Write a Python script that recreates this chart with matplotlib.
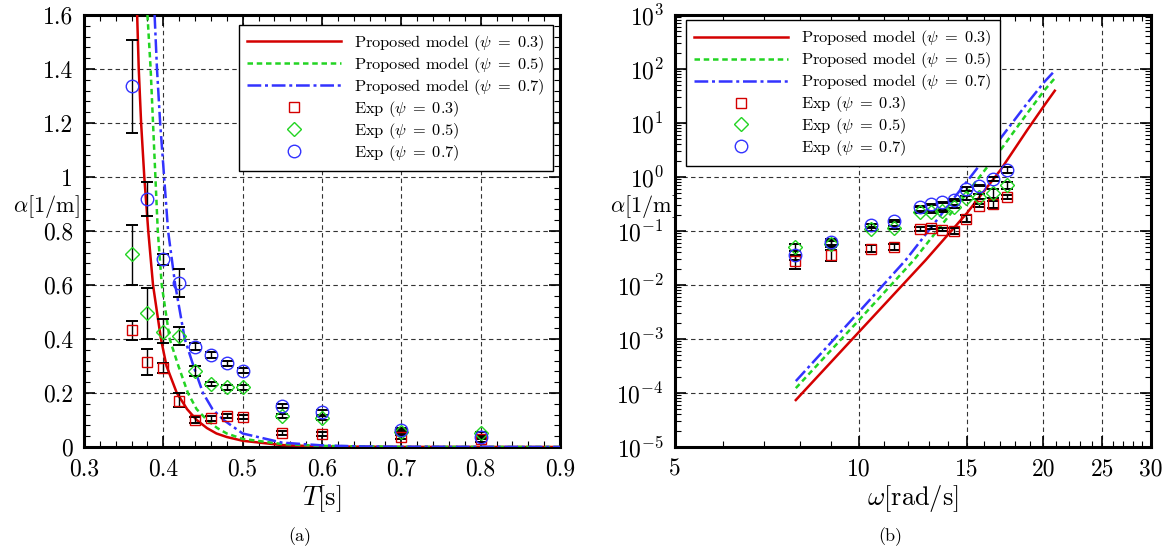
import numpy as np
import matplotlib
matplotlib.use("Agg")
from matplotlib import pyplot as plt
from matplotlib.ticker import MultipleLocator, FixedLocator, FixedFormatter, LogLocator, NullFormatter

plt.rcParams['font.family'] = ['cmr10', 'DejaVu Serif']
plt.rcParams['mathtext.fontset'] = 'cm'
plt.rcParams['axes.formatter.use_mathtext'] = True

# experimental data (same points in both panels)
period = [0.36, 0.38, 0.40, 0.42, 0.44, 0.46, 0.48, 0.50, 0.55, 0.60, 0.70, 0.80]
omega = [17.45, 16.53, 15.71, 14.96, 14.28, 13.66, 13.09, 12.57, 11.42, 10.47, 8.98, 7.85]

exp_03 = [0.433, 0.316, 0.294, 0.170, 0.100, 0.106, 0.115, 0.110, 0.051, 0.047, 0.036, 0.028]
exp_03_lo = [0.396, 0.267, 0.273, 0.149, 0.088, 0.098, 0.107, 0.102, 0.044, 0.040, 0.028, 0.020]
exp_03_hi = [0.468, 0.363, 0.312, 0.199, 0.112, 0.114, 0.123, 0.118, 0.058, 0.054, 0.044, 0.036]

exp_05 = [0.714, 0.495, 0.425, 0.411, 0.281, 0.233, 0.221, 0.221, 0.115, 0.108, 0.057, 0.050]
exp_05_lo = [0.600, 0.400, 0.384, 0.377, 0.263, 0.225, 0.212, 0.211, 0.108, 0.100, 0.050, 0.043]
exp_05_hi = [0.821, 0.590, 0.474, 0.446, 0.299, 0.241, 0.230, 0.231, 0.122, 0.116, 0.064, 0.057]

exp_07 = [1.336, 0.917, 0.695, 0.609, 0.372, 0.341, 0.310, 0.283, 0.152, 0.128, 0.063, 0.036]
exp_07_lo = [1.163, 0.855, 0.673, 0.557, 0.359, 0.331, 0.300, 0.273, 0.144, 0.119, 0.056, 0.029]
exp_07_hi = [1.508, 0.980, 0.714, 0.660, 0.385, 0.351, 0.320, 0.293, 0.160, 0.137, 0.070, 0.043]

# model curves, panel (a)
model_T_03 = [0.367, 0.369, 0.372, 0.376, 0.381, 0.387, 0.397, 0.404, 0.417, 0.430, 0.442, 0.455, 0.467, 0.48, 0.50, 0.55, 0.60, 0.70, 0.90]
model_a_03 = [1.60, 1.40, 1.20, 1.00, 0.80, 0.60, 0.40, 0.30, 0.20, 0.14, 0.10, 0.07, 0.05, 0.037, 0.023, 0.007, 0.002, 0.0003, 0.0]
model_T_05 = [0.380, 0.384, 0.387, 0.390, 0.393, 0.398, 0.408, 0.419, 0.431, 0.442, 0.455, 0.468, 0.48, 0.50, 0.55, 0.60, 0.70, 0.90]
model_a_05 = [1.60, 1.40, 1.20, 1.00, 0.80, 0.60, 0.40, 0.30, 0.20, 0.14, 0.10, 0.07, 0.05, 0.03, 0.011, 0.004, 0.0005, 0.0]
model_T_07 = [0.389, 0.392, 0.396, 0.401, 0.406, 0.415, 0.427, 0.438, 0.450, 0.462, 0.476, 0.50, 0.55, 0.60, 0.65, 0.70, 0.90]
model_a_07 = [1.60, 1.40, 1.20, 1.00, 0.80, 0.60, 0.40, 0.30, 0.20, 0.14, 0.10, 0.05, 0.016, 0.006, 0.002, 0.001, 0.0]

# model curves, panel (b)
model_w_03 = [7.88, 10.0, 12.85, 15.0, 17.03, 18.83, 20.1, 20.89]
model_b_03 = [7.4e-5, 1.36e-3, 0.029, 0.213, 1.35, 7.4, 21.5, 39.6]
model_w_05 = [7.88, 10.0, 12.29, 15.0, 17.03, 18.83, 20.1, 20.95]
model_b_05 = [1.23e-4, 2.25e-3, 0.029, 0.50, 3.16, 15.1, 40.7, 70.0]
model_w_07 = [7.88, 10.0, 11.92, 15.0, 17.03, 18.83, 20.1, 20.89]
model_b_07 = [1.66e-4, 3.2e-3, 0.029, 0.82, 5.2, 23.2, 58.2, 93.0]

psi = ['0.3', '0.5', '0.7']
line_colors = ['#d40000', '#22d422', '#3333ff']
line_styles = ['-', (0, (2.2, 1.5)), (0, (5.5, 1.5, 1.2, 1.5))]
markers = ['s', 'D', 'o']
marker_sizes = [7, 7, 9]

a_xticks = [0.3, 0.4, 0.5, 0.6, 0.7, 0.8, 0.9]
a_xticklabels = ['0.3', '0.4', '0.5', '0.6', '0.7', '0.8', '0.9']
a_yticks = [0, 0.2, 0.4, 0.6, 0.8, 1.0, 1.2, 1.4, 1.6]
a_yticklabels = ['0', '0.2', '0.4', '0.6', '0.8', '1', '1.2', '1.4', '1.6']
b_xticks = [5, 10, 15, 20, 25, 30]
b_xticklabels = ['5', '10', '15', '20', '25', '30']

tick_fs = 17
fig = plt.figure(figsize=(11.7, 5.53), dpi=100)
ax1 = fig.add_axes([0.0718, 0.1917, 0.4068, 0.7812])
ax2 = fig.add_axes([0.5769, 0.1917, 0.4068, 0.7812])

exp_sets = [(exp_03, exp_03_lo, exp_03_hi), (exp_05, exp_05_lo, exp_05_hi), (exp_07, exp_07_lo, exp_07_hi)]
model_a = [(model_T_03, model_a_03), (model_T_05, model_a_05), (model_T_07, model_a_07)]
model_b = [(model_w_03, model_b_03), (model_w_05, model_b_05), (model_w_07, model_b_07)]

for ax, xs, models in [(ax1, period, model_a), (ax2, omega, model_b)]:
    for i, (mx, my) in enumerate(models):
        ax.plot(mx, my, color=line_colors[i], linestyle=line_styles[i], lw=1.8,
                label=r'Proposed model ($\psi\;=\;%s$)' % psi[i], zorder=3)
    for i, (y, lo, hi) in enumerate(exp_sets):
        y = np.array(y)
        yerr = [y - np.array(lo), np.array(hi) - y]
        ax.errorbar(xs, y, yerr=yerr, fmt='none', ecolor='black', elinewidth=1.0,
                    capsize=4.5, capthick=1.4, zorder=4)
    for i, (y, lo, hi) in enumerate(exp_sets):
        ax.plot(xs, y, linestyle='none', marker=markers[i], markersize=marker_sizes[i],
                markerfacecolor='none', markeredgecolor=line_colors[i], markeredgewidth=1.0,
                label=r'Exp ($\psi\;=\;%s$)' % psi[i], zorder=5)
    ax.grid(True, which='major', color='#333333', linestyle=(0, (4, 3)), linewidth=0.8)
    ax.set_axisbelow(True)
    ax.tick_params(which='both', direction='in', top=True, right=True, labelsize=tick_fs, pad=8)
    ax.tick_params(which='major', length=8, width=1.2)
    ax.tick_params(which='minor', length=4, width=0.8)
    for s in ax.spines.values():
        s.set_linewidth(2.2)

# panel (a)
ax1.set_xlim(0.3, 0.9)
ax1.set_ylim(0, 1.6)
ax1.xaxis.set_major_locator(FixedLocator(a_xticks))
ax1.xaxis.set_major_formatter(FixedFormatter(a_xticklabels))
ax1.xaxis.set_minor_locator(MultipleLocator(0.02))
ax1.yaxis.set_major_locator(FixedLocator(a_yticks))
ax1.yaxis.set_major_formatter(FixedFormatter(a_yticklabels))
ax1.yaxis.set_minor_locator(MultipleLocator(0.04))
ax1.set_xlabel(r'$T[\mathrm{s}]$', fontsize=19, labelpad=2)
ax1.set_ylabel(r'$\alpha[1/\mathrm{m}]$', fontsize=16, rotation=0, va='center', ha='center')
ax1.yaxis.set_label_coords(-0.08, 0.556)

# panel (b)
ax2.set_xscale('log')
ax2.set_yscale('log')
ax2.set_xlim(5, 30)
ax2.set_ylim(1e-5, 1e3)
ax2.xaxis.set_major_locator(FixedLocator(b_xticks))
ax2.xaxis.set_major_formatter(FixedFormatter(b_xticklabels))
ax2.xaxis.set_minor_locator(FixedLocator(range(5, 31)))
ax2.xaxis.set_minor_formatter(NullFormatter())
ax2.yaxis.set_major_locator(LogLocator(base=10, numticks=20))
ax2.yaxis.set_minor_locator(LogLocator(base=10, subs=np.arange(2, 10), numticks=20))
ax2.yaxis.set_minor_formatter(NullFormatter())
ax2.set_xlabel(r'$\omega[\mathrm{rad/s}]$', fontsize=19, labelpad=2)
ax2.set_ylabel(r'$\alpha[1/\mathrm{m}]$', fontsize=16, rotation=0, va='center', ha='center')
ax2.yaxis.set_label_coords(-0.066, 0.556)

leg_kw = dict(fontsize=11.8, frameon=True, fancybox=False, edgecolor='black',
              framealpha=1, handlelength=5.7, labelspacing=0.12, borderaxespad=0,
              borderpad=0.5, handletextpad=0.8)
l1 = ax1.legend(loc='upper right', bbox_to_anchor=(0.985, 0.977), **leg_kw)
l2 = ax2.legend(loc='upper left', bbox_to_anchor=(0.023, 0.988), **leg_kw)
for lg in (l1, l2):
    lg.get_frame().set_linewidth(1.0)
    lg.set_zorder(10)

fig.text(0.256, 0.029, '(a)', fontsize=13, ha='center', va='center')
fig.text(0.761, 0.029, '(b)', fontsize=13, ha='center', va='center')

fig.savefig('out.png', dpi=100)
